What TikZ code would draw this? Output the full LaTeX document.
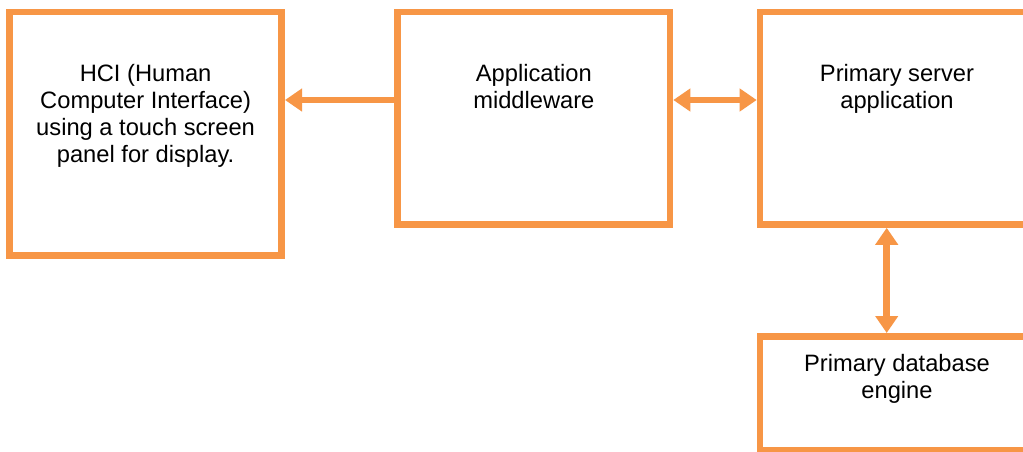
\documentclass[tikz,border=0pt]{standalone}
\usepackage{fontspec}
\setmainfont{Liberation Sans}
\usetikzlibrary{arrows.meta}
\definecolor{boxorange}{RGB}{247,150,70}
\begin{document}
\begin{tikzpicture}[x=1pt,y=-1pt,
  box/.style={draw=boxorange,line width=6.6pt,rectangle,inner sep=0pt},
  lbl/.style={font=\fontsize{23.7}{27}\selectfont,align=center,inner sep=0pt,anchor=base,text=black},
  arr/.style={draw=boxorange,line width=6.5pt,-{Triangle[length=17pt,width=22pt]}},
  darr/.style={draw=boxorange,line width=6.5pt,{Triangle[length=17pt,width=22pt]}-{Triangle[length=17pt,width=22pt]}}]
\useasboundingbox (0,0) rectangle (1023,451);
\fill[white] (0,0) rectangle (1023,451);
\clip (0,0) rectangle (1023,451);
\node[box,minimum width=272.2pt,minimum height=243.3pt] (hci) at (145.6,133.65) {};
\node[box,minimum width=272.3pt,minimum height=212.5pt] (mw) at (533.85,118.25) {};
\node[box,minimum width=274pt,minimum height=212.5pt] (srv) at (897,118.25) {};
\node[box,minimum width=274pt,minimum height=114pt] (db) at (897,393.3) {};
\node[lbl] (hcit) at (145.6,162.5) {HCI (Human\\Computer Interface)\\using a touch screen\\panel for display.};
\node[lbl] (mwt) at (533.85,108.5) {Application\\middleware};
\node[lbl] (srvt) at (897,108.5) {Primary server\\application};
\node[lbl] (dbt) at (897,398.5) {Primary database\\engine};
\coordinate (ya) at (0,100);
\coordinate (xa) at (886.7,0);
\draw[arr] (mw.west |- ya) -- (hci.east |- ya);
\draw[darr] (mw.east |- ya) -- (srv.west |- ya);
\draw[darr] (srv.south -| xa) -- (db.north -| xa);
\end{tikzpicture}
\end{document}
